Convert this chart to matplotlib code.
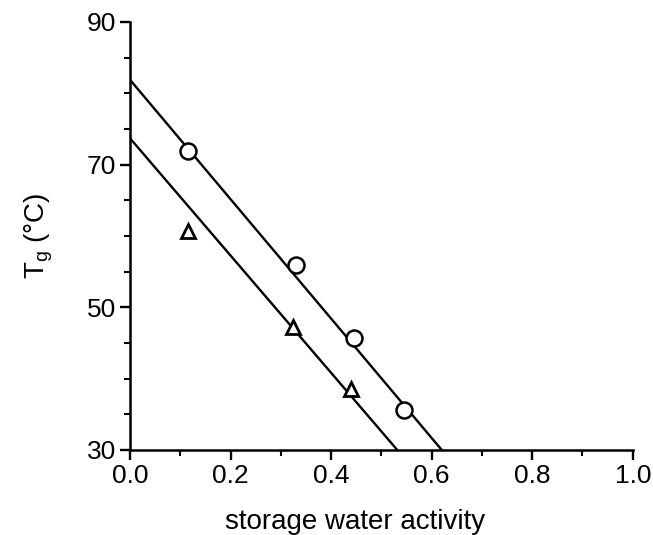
import matplotlib
matplotlib.use("Agg")
import matplotlib.pyplot as plt
from matplotlib.ticker import MultipleLocator

plt.rcParams['font.family'] = ['Liberation Sans', 'DejaVu Sans']
plt.rcParams['mathtext.default'] = 'regular'

# data
circle_aw = [0.115, 0.33, 0.445, 0.545]
circle_tg = [71.9, 55.9, 45.7, 35.6]
triangle_aw = [0.115, 0.325, 0.44]
triangle_tg = [60.7, 47.3, 38.6]
# fitted lines: (intercept, slope)
fit_circle = (81.9, -83.7)
fit_triangle = (73.7, -82.2)

x_ticks = [0.0, 0.2, 0.4, 0.6, 0.8, 1.0]
y_ticks = [30, 50, 70, 90]

fig = plt.figure(figsize=(6.53, 5.35), dpi=100)
ax = fig.add_axes([0.199, 0.159, 0.770, 0.800])

for b, m in (fit_circle, fit_triangle):
    ax.axline((0, b), slope=m, color='black', lw=1.7, zorder=2)

ax.plot(circle_aw, circle_tg, linestyle='none', marker='o', ms=11.5,
        mfc='white', mec='black', mew=1.8, zorder=3)
ax.plot(triangle_aw, triangle_tg, linestyle='none', marker='^', ms=10,
        mfc='white', mec='black', mew=2.0, zorder=3)

ax.set_xlim(0, 1.0)
ax.set_ylim(30, 90)
ax.set_xticks(x_ticks)
ax.set_yticks(y_ticks)
ax.set_xticklabels([f"{v:.1f}" for v in x_ticks])
ax.set_yticklabels([str(v) for v in y_ticks])
ax.xaxis.set_minor_locator(MultipleLocator(0.1))
ax.yaxis.set_minor_locator(MultipleLocator(5))

for s in ('top', 'right'):
    ax.spines[s].set_visible(False)
for s in ('left', 'bottom'):
    ax.spines[s].set_linewidth(1.8)

ax.tick_params(which='major', direction='out', length=7, width=1.7,
               labelsize=19, pad=3)
ax.tick_params(which='minor', direction='out', length=4, width=1.5)

ax.set_xlabel('storage water activity', fontsize=20)
ax.xaxis.set_label_coords(0.447, -0.138)
ax.set_ylabel('T$_g$ (°C)', fontsize=20)
ax.yaxis.set_label_coords(-0.15, 0.5)

fig.savefig('out.png', dpi=100)
